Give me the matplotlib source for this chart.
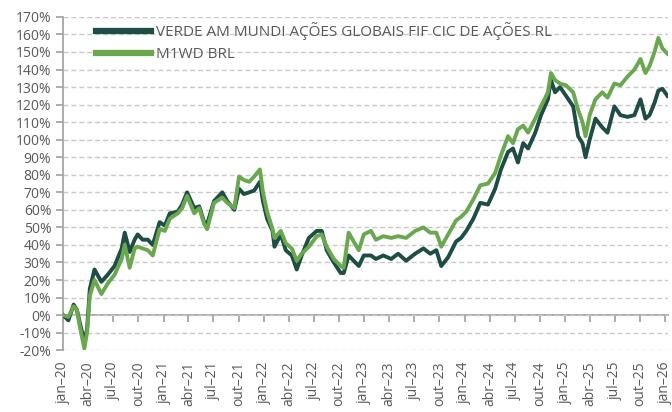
import pandas as pd
import matplotlib
matplotlib.use("Agg")
import matplotlib.pyplot as plt

# datas (aprox.)
datas = [
    "2020-01-01", "2020-01-20", "2020-02-08", "2020-02-20", "2020-03-01", "2020-03-18",
    "2020-03-28", "2020-04-07", "2020-04-24", "2020-05-19", "2020-06-11", "2020-07-06",
    "2020-08-01", "2020-08-12", "2020-08-30", "2020-09-17", "2020-09-28", "2020-10-16",
    "2020-11-04", "2020-11-22", "2020-12-17", "2021-01-05", "2021-01-23", "2021-02-21",
    "2021-03-09", "2021-03-27", "2021-04-22", "2021-05-10", "2021-05-28", "2021-06-08",
    "2021-07-03", "2021-08-02", "2021-08-20", "2021-09-15", "2021-10-02", "2021-10-20",
    "2021-11-08", "2021-11-26", "2021-12-17", "2021-12-28", "2022-01-12", "2022-02-01",
    "2022-02-08", "2022-03-03", "2022-03-21", "2022-04-12", "2022-04-30", "2022-05-18",
    "2022-06-13", "2022-07-12", "2022-07-30", "2022-08-17", "2022-09-12", "2022-10-07",
    "2022-10-18", "2022-11-05", "2022-11-23", "2022-12-12", "2022-12-30", "2023-01-25",
    "2023-02-12", "2023-03-11", "2023-04-09", "2023-05-04", "2023-06-02", "2023-07-05",
    "2023-08-04", "2023-08-29", "2023-09-20", "2023-10-08", "2023-11-02", "2023-12-01",
    "2023-12-19", "2024-01-07", "2024-02-02", "2024-02-27", "2024-03-26", "2024-04-21",
    "2024-05-12", "2024-06-07", "2024-06-25", "2024-07-13", "2024-08-01", "2024-08-19",
    "2024-09-14", "2024-10-05", "2024-10-30", "2024-11-10", "2024-11-25", "2024-12-13",
    "2025-01-04", "2025-01-30", "2025-02-17", "2025-03-05", "2025-03-16", "2025-03-31",
    "2025-04-21", "2025-05-16", "2025-06-04", "2025-06-29", "2025-07-21", "2025-08-16",
    "2025-09-10", "2025-10-02", "2025-10-20", "2025-11-04", "2025-11-22", "2025-12-06",
    "2025-12-21", "2026-01-08",
]

verde = [
    0, -3, 6, 3, -4, -15,
    -8, 15, 26, 19, 23, 28,
    38, 47, 36, 43, 46, 43,
    43, 40, 53, 51, 58, 59,
    63, 70, 61, 62, 53, 52,
    65, 70, 65, 60, 72, 69,
    70, 71, 76, 65, 55, 48,
    39, 46, 37, 34, 26, 34,
    44, 48, 48, 37, 30, 24,
    24, 34, 31, 28, 34, 34,
    32, 34, 32, 35, 31, 35,
    38, 35, 37, 28, 33, 42,
    44, 48, 55, 64, 63, 72,
    83, 93, 95, 87, 98, 95,
    104, 114, 123, 134, 127, 130,
    125, 119, 102, 98, 90, 100,
    112, 107, 104, 119, 114, 113,
    114, 123, 112, 114, 121, 128,
    129, 125,
]

m1wd = [
    0, -1, 5, 3, -6, -19,
    -10, 11, 20, 12, 18, 23,
    32, 40, 27, 38, 39, 38,
    37, 34, 49, 48, 55, 58,
    61, 68, 58, 61, 52, 49,
    64, 67, 64, 61, 79, 77,
    76, 79, 83, 70, 59, 49,
    44, 48, 41, 38, 31, 35,
    39, 45, 46, 39, 32, 28,
    27, 47, 42, 37, 46, 48,
    43, 45, 44, 45, 44, 48,
    50, 47, 47, 39, 46, 54,
    56, 59, 66, 74, 75, 81,
    91, 102, 98, 106, 108, 104,
    112, 119, 127, 138, 134, 132,
    131, 127, 117, 110, 102, 114,
    123, 127, 124, 132, 131, 136,
    140, 146, 138, 142, 150, 158,
    152, 149,
]

nome_fundo = "VERDE AM MUNDI AÇÕES GLOBAIS FIF CIC DE AÇÕES RL"
nome_indice = "M1WD BRL"

df = pd.DataFrame({"data": pd.to_datetime(datas), "verde": verde, "m1wd": m1wd})

cor_escura = "#1E4D45"
cor_clara = "#6AA84F"
cinza = "#A6A6A6"
texto = "#595959"

plt.rcParams["font.family"] = ["Open Sans", "DejaVu Sans"]

fig = plt.figure(figsize=(6.72, 4.12), dpi=100)
ax = fig.add_axes([0.094, 0.150, 0.900, 0.809])

ax.plot(df["data"], df["verde"], color=cor_escura, lw=2.8, label=nome_fundo, zorder=3)
ax.plot(df["data"], df["m1wd"], color=cor_clara, lw=2.8, label=nome_indice, zorder=4)

ax.set_ylim(-20, 170)
ax.set_yticks(range(-20, 171, 10))
ax.set_yticklabels([f"{v}%" for v in range(-20, 171, 10)])
ax.set_xlim(pd.Timestamp("2020-01-01"), pd.Timestamp("2026-01-10"))

ticks = pd.date_range("2020-01-01", "2026-01-01", freq="3MS")
meses = {1: "jan", 4: "abr", 7: "jul", 10: "out"}
ax.set_xticks(ticks)
ax.set_xticklabels([f"{meses[t.month]}\u2013{t.strftime('%y')}" for t in ticks],
                   rotation=90, color=texto, fontsize=10)

ax.grid(axis="y", color="#C8C8C8", linestyle=(0, (3.5, 2.2)), linewidth=1.0, zorder=0)
for s in ["top", "right", "bottom"]:
    ax.spines[s].set_visible(False)
ax.spines["left"].set_color(cinza)
ax.spines["left"].set_linewidth(1.3)
ax.tick_params(axis="y", colors=cinza, labelcolor=texto, labelsize=10, length=5, width=1.3)
ax.tick_params(axis="x", length=0, pad=8)

# eixo x na linha do 0%
sec = ax.secondary_xaxis(0, transform=ax.transData)
sec.set_alignment("bottom")
sec.set_xticks(ticks)
sec.set_xticklabels([])
sec.spines["bottom"].set_color(cinza)
sec.spines["bottom"].set_linewidth(1.3)
sec.tick_params(colors=cinza, length=5, width=1.3)

leg = ax.legend(loc="upper left", bbox_to_anchor=(0.032, 1.026), frameon=False,
                fontsize=11, handlelength=3.6, handletextpad=0.3, labelspacing=0.45,
                labelcolor=texto)
for h in leg.get_lines():
    h.set_linewidth(4.5)

fig.savefig("out.png", dpi=100)
